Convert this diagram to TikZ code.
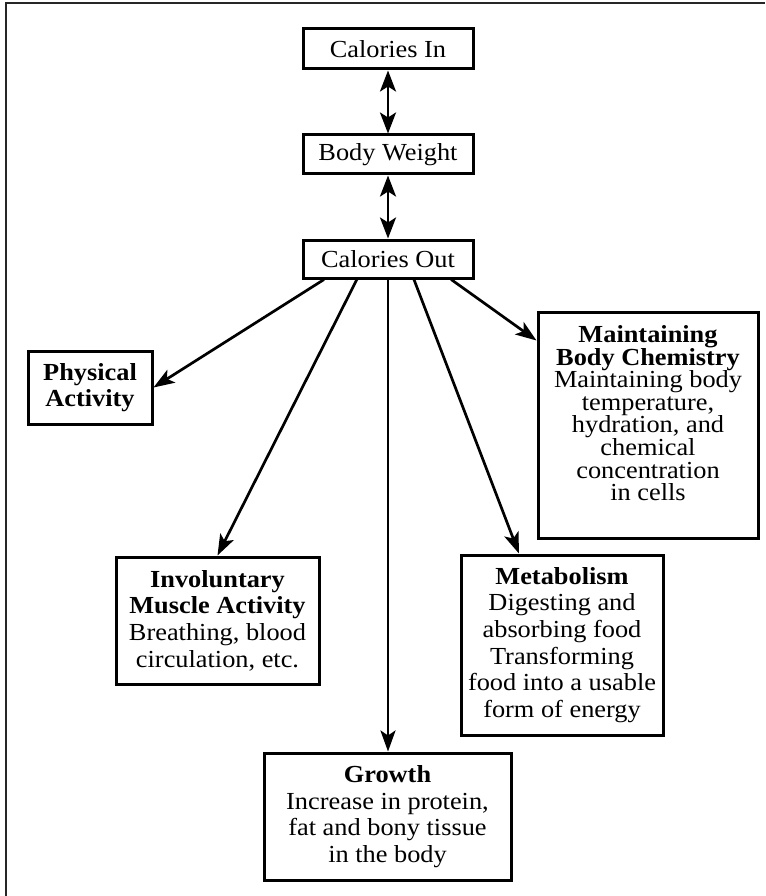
\documentclass[tikz,border=0pt]{standalone}
\usepackage{fontspec}
\setmainfont{Liberation Serif}[FakeStretch=1.075]
\usetikzlibrary{arrows.meta,calc}
\begin{document}
\begin{tikzpicture}[x=1pt,y=-1pt,
  box/.style={draw=black, line width=3pt, inner sep=0pt, align=center,
    font=\fontsize{24.5}{26.7}\selectfont},
  arr/.style={line width=2.7pt, -{Stealth[length=21pt,width=15pt,inset=5pt]}},
  darr/.style={line width=2.7pt,
    {Stealth[length=21pt,width=16pt,inset=5pt]}-{Stealth[length=21pt,width=16pt,inset=5pt]}},
  frameline/.style={line width=2.2pt, draw=black!85}]
\useasboundingbox (0,0) rectangle (765,896);
\draw[frameline] (6,896) -- (6,3) -- (765,3);

\node[box, minimum width=170pt, minimum height=40pt] (cin) at (388,49) {Calories In};
\node[box, minimum width=170pt, minimum height=39pt] (bw) at (388,154.5) {Body Weight};
\node[box, minimum width=170pt, minimum height=38pt] (cout) at (388,259) {Calories Out};
\node[box, minimum width=124pt, minimum height=73pt] (phys) at (90,387.5)
  {\textbf{Physical}\\\textbf{Activity}};
\node[box, minimum width=203pt, minimum height=127pt] (invol) at (217.5,620.5)
  {\textbf{Involuntary}\\\textbf{Muscle Activity}\\Breathing, blood\\circulation, etc.};
\node[box, minimum width=247pt, minimum height=127pt] (growth) at (387.5,816.5)
  {\textbf{Growth}\\Increase in protein,\\fat and bony tissue\\in the body};
\node[box, minimum width=202pt, minimum height=180pt] (metab) at (562,645)
  {\textbf{Metabolism}\\Digesting and\\absorbing food\\Transforming\\food into a usable\\form of energy};
\node[box, minimum width=220pt, minimum height=226pt,
  font=\fontsize{24.5}{22.6}\selectfont] (maint) at (648,425)
  {\textbf{Maintaining}\\\textbf{Body Chemistry}\\Maintaining body\\temperature,\\hydration, and\\chemical\\concentration\\in cells\rule[-24pt]{0pt}{24pt}};

\draw[darr] (cin) -- (bw);
\draw[darr] (bw) -- (cout);
\draw[arr] ($(cout.south west)!0.13!(cout.south east)$) -- (phys.east);
\draw[arr] ($(cout.south west)!0.32!(cout.south east)$) -- (invol.north);
\draw[arr] (cout.south) -- (cout.south |- growth.north);
\draw[arr] ($(cout.south west)!0.65!(cout.south east)$) -- ($(metab.north west)!0.29!(metab.north east)$);
\draw[arr] ($(cout.south west)!0.865!(cout.south east)$) -- ([yshift=-30pt]maint.north west);
\end{tikzpicture}
\end{document}
